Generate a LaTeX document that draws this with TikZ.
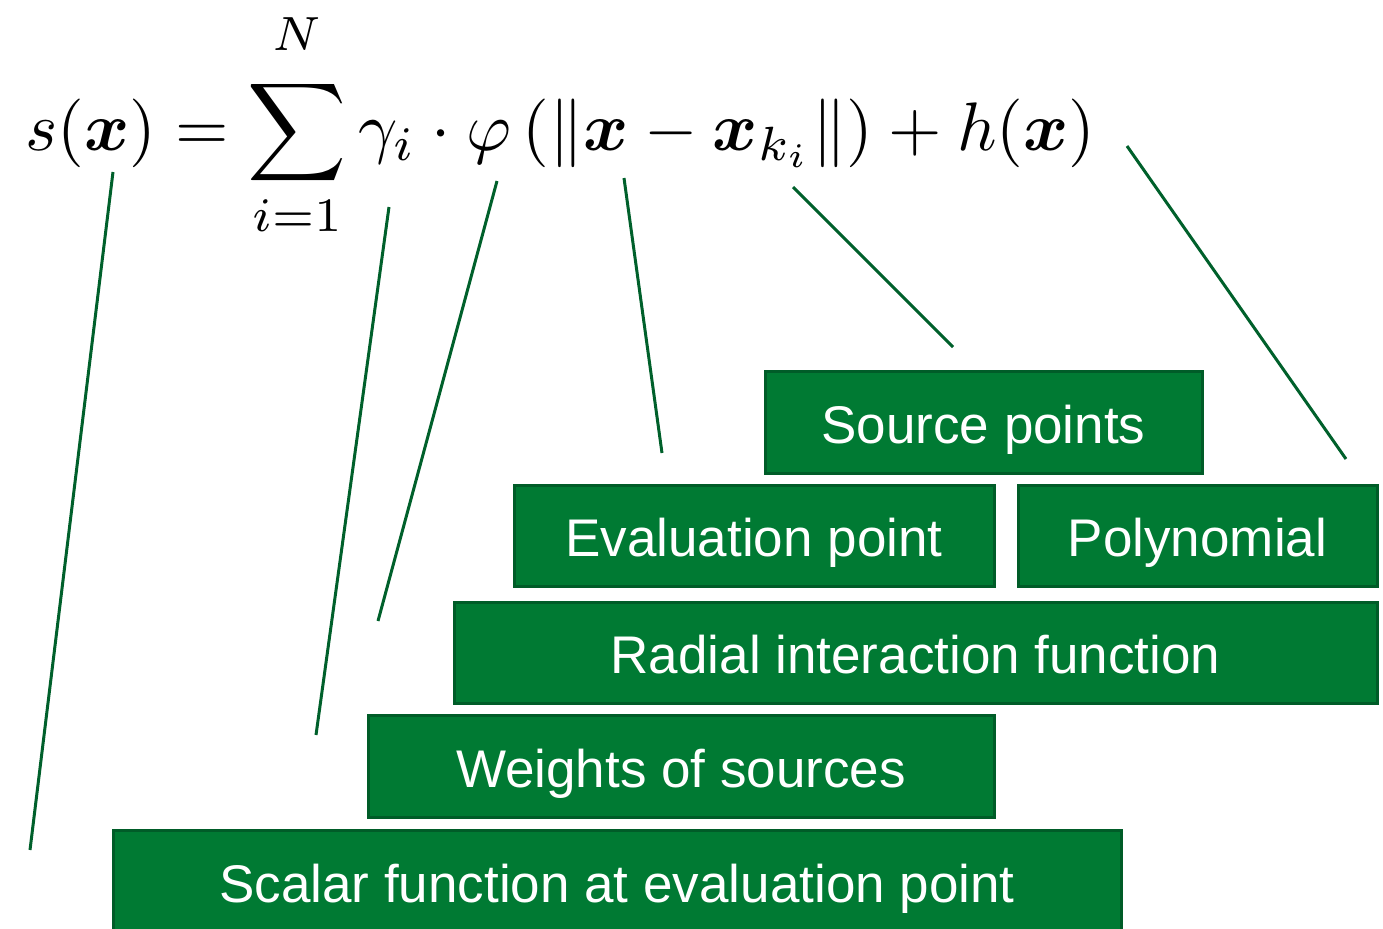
\documentclass[tikz,border=0pt]{standalone}
\usepackage{amsmath}
\usepackage{amssymb}
\usepackage{bm}
\usepackage{fontspec}
\setsansfont{Liberation Sans}
\usetikzlibrary{positioning}
\definecolor{boxgreen}{HTML}{007A33}
\definecolor{edgegreen}{HTML}{005C28}
\definecolor{linegreen}{HTML}{00602B}

\begin{document}
\begin{tikzpicture}[x=0.5pt, y=-0.5pt,
    block/.style={draw=edgegreen, line width=1.5pt, fill=boxgreen, text=white,
        font=\sffamily\fontsize{26.5}{30}\selectfont, inner sep=0pt,
        text height=21pt, text depth=0pt},
    lead/.style={draw=linegreen, line width=1.5pt}]
        \useasboundingbox (0,0) rectangle (1383,928);

        % the formula
        \node[anchor=base west, inner sep=0pt] (eq) at (25,150)
            {\resizebox{535pt}{!}{$\displaystyle s(\bm{x}) = \sum_{i=1}^{\raisebox{2pt}{$\scriptstyle N$}} \gamma_i \cdot \varphi\left(\left\|\bm{x} - \bm{x}_{k_i}\right\|\right) + h(\bm{x})$}};

        % labels
        \node[block, minimum width=218.5pt, minimum height=51pt] (src)  at (983.5,422)   {Source points};
        \node[block, minimum width=240pt,   minimum height=50.5pt] (eval) at (754,535.5)  {Evaluation point};
        \node[block, minimum width=179.5pt, minimum height=50.5pt] (poly) at (1197.5,535.5) {Polynomial};
        \node[block, minimum width=461.5pt, minimum height=50.5pt] (rad)  at (915.5,652.5) {Radial interaction function};
        \node[block, minimum width=313pt,   minimum height=51pt] (wgt)  at (681,766)   {Weights of sources};
        \node[block, minimum width=504pt,   minimum height=51pt] (scal) at (617,881)   {Scalar function at evaluation point};

        % pointers
        \coordinate (s1) at (113,172);  \coordinate (s2) at (30,850);
        \coordinate (g1) at (389,207);  \coordinate (g2) at (316,735);
        \coordinate (p1) at (497,181);  \coordinate (p2) at (378,621);
        \coordinate (x1) at (624,178);  \coordinate (x2) at (662,453);
        \coordinate (k1) at (793,187);  \coordinate (k2) at (953,347);
        \coordinate (h1) at (1127,146); \coordinate (h2) at (1346,459);

        \path[lead]
        (s1) edge (s2)
        (g1) edge (g2)
        (p1) edge (p2)
        (x1) edge (x2)
        (k1) edge (k2)
        (h1) edge (h2);

    \end{tikzpicture}
\end{document}
